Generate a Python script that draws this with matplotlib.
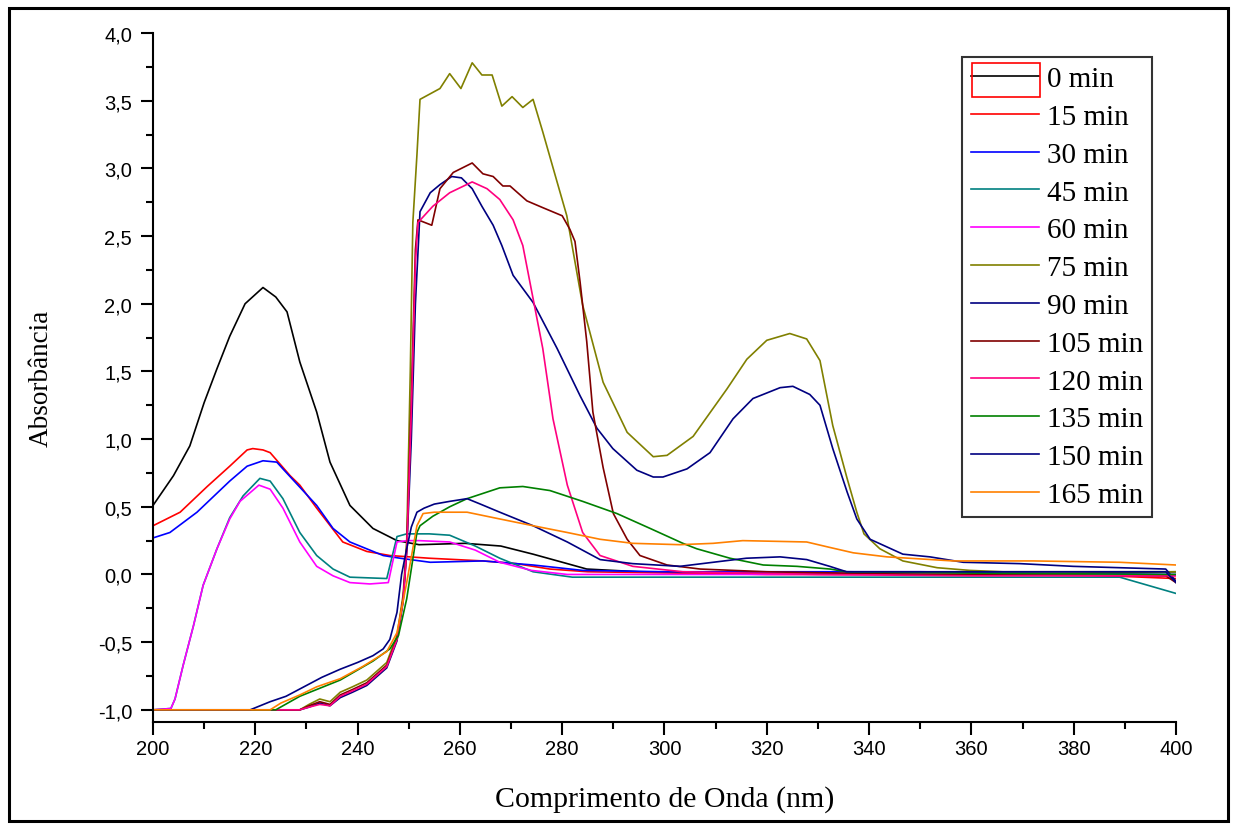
import matplotlib
matplotlib.use("Agg")
import matplotlib.pyplot as plt
from matplotlib.patches import Rectangle
from matplotlib.ticker import MultipleLocator, FuncFormatter

# espectros UV-Vis (comprimento de onda em nm, absorbancia)
wl_0 = [200, 204, 207.2, 210, 212.5, 215, 218, 221.5, 224, 226.2, 228.7, 232, 234.6, 238.5, 243, 247.7,
        252, 261, 268, 274.3, 281, 284.8, 295, 320, 360, 400]
abs_0 = [0.51, 0.73, 0.95, 1.27, 1.52, 1.76, 2.0, 2.12, 2.05, 1.94, 1.57, 1.2, 0.83, 0.51, 0.34, 0.25,
         0.22, 0.23, 0.21, 0.15, 0.08, 0.04, 0.02, 0.01, 0.0, 0.02]

wl_15 = [200, 205.3, 210.6, 215, 218.4, 219.5, 221.5, 222.9, 226.8, 228.7, 232, 237.1, 241.8, 246.3,
         254, 264.5, 271, 277.6, 285, 320, 380, 400]
abs_15 = [0.36, 0.46, 0.65, 0.80, 0.92, 0.93, 0.92, 0.90, 0.73, 0.66, 0.49, 0.24, 0.17, 0.14,
          0.12, 0.10, 0.08, 0.04, 0.02, 0.0, 0.0, -0.03]

wl_30 = [200, 203.3, 208.6, 215, 218.4, 221.5, 224.2, 225.4, 232, 235.2, 238.5, 245, 248.3, 254.2,
         264.5, 274.3, 284, 300, 350, 400]
abs_30 = [0.27, 0.31, 0.46, 0.69, 0.80, 0.84, 0.83, 0.78, 0.51, 0.34, 0.24, 0.14, 0.12, 0.09,
          0.10, 0.07, 0.03, 0.02, 0.02, 0.0]

wl_45 = [200, 203.5, 204.3, 205.9, 207.9, 209.8, 212.5, 215, 217.6, 220.9, 222.9, 225.4, 228.7, 232,
         235.2, 238.5, 245.7, 247.7, 249.6, 254, 258, 263, 267.8, 274.3, 282, 389, 400]
abs_45 = [-1.0, -0.99, -0.92, -0.67, -0.38, -0.08, 0.19, 0.42, 0.58, 0.71, 0.69, 0.56, 0.31, 0.14,
          0.04, -0.02, -0.03, 0.28, 0.30, 0.30, 0.29, 0.21, 0.12, 0.02, -0.02, -0.02, -0.14]

wl_60 = [200, 203.5, 204.3, 205.9, 207.9, 209.8, 212.5, 215, 217, 220.7, 222.9, 225.4, 228.7, 232,
         235.2, 238.5, 242.4, 246, 247.7, 249.6, 252, 258, 263, 267.8, 274, 281, 350, 400]
abs_60 = [-1.0, -0.99, -0.92, -0.67, -0.38, -0.08, 0.19, 0.41, 0.54, 0.66, 0.63, 0.49, 0.24, 0.06,
          -0.01, -0.06, -0.07, -0.06, 0.24, 0.25, 0.25, 0.24, 0.18, 0.09, 0.03, 0.0, 0.0, -0.01]

wl_75 = [200, 228.7, 230.5, 232.6, 234.6, 236.6, 239, 241.8, 245.7, 247.7, 248.9, 249.6, 250.3, 250.8,
         251.6, 252.2, 256.1, 258, 260.2, 262.4, 264.3, 266.3, 268.2, 270.2, 272.3, 274.3, 276.2, 279,
         280.9, 284, 288, 292.7, 297.8, 300.5, 305.6, 312.2, 316.1, 320, 324.5, 327.8, 330.4, 332.9,
         335.7, 337.6, 339, 342.1, 346.6, 353.3, 359.7, 366.2, 400]
abs_75 = [-1.0, -1.0, -0.96, -0.92, -0.94, -0.87, -0.83, -0.78, -0.65, -0.45, -0.15, 0.25, 1.5, 2.6,
          3.1, 3.51, 3.59, 3.70, 3.59, 3.78, 3.69, 3.69, 3.46, 3.53, 3.45, 3.51, 3.27, 2.90,
          2.65, 1.99, 1.42, 1.05, 0.87, 0.88, 1.02, 1.37, 1.59, 1.73, 1.78, 1.74, 1.58, 1.10,
          0.71, 0.46, 0.30, 0.19, 0.10, 0.05, 0.03, 0.02, 0.02]

wl_90 = [200, 228.7, 230.5, 232.6, 234.6, 236.6, 239, 241.8, 245.7, 247.7, 248.9, 249.6, 250.5, 251.3,
         252.2, 254.2, 256.1, 258.4, 260.3, 262.4, 264.3, 266.5, 268.2, 270.4, 274.3, 279, 283.5, 286.8,
         289.9, 294.6, 297.8, 299.7, 304.4, 308.9, 313.4, 317.3, 322.6, 325.1, 328.4, 330.4, 332.9,
         335.7, 337.6, 340.2, 346.6, 351.9, 358.4, 369.5, 379.9, 398, 400]
abs_90 = [-1.0, -1.0, -0.98, -0.95, -0.97, -0.91, -0.87, -0.82, -0.69, -0.49, -0.2, 0.17, 1.0, 2.0,
          2.68, 2.82, 2.88, 2.94, 2.93, 2.85, 2.72, 2.58, 2.43, 2.21, 2.01, 1.67, 1.32, 1.08,
          0.93, 0.77, 0.72, 0.72, 0.78, 0.90, 1.15, 1.30, 1.38, 1.39, 1.33, 1.25, 0.93,
          0.61, 0.41, 0.26, 0.15, 0.13, 0.09, 0.08, 0.06, 0.04, -0.05]

wl_105 = [200, 228.7, 230.5, 232.6, 234.6, 236.6, 239, 241.8, 245.7, 247.7, 248.9, 249.6, 250.5, 251.3,
          251.8, 254.5, 256.1, 258.7, 262.4, 264.5, 266.5, 268.4, 269.8, 273.1, 276.2, 280, 281.5,
          282.5, 283.5, 284.8, 286, 288, 290, 292.7, 295.2, 300.5, 307, 320, 350, 398, 400]
abs_105 = [-1.0, -1.0, -0.97, -0.94, -0.96, -0.89, -0.85, -0.80, -0.67, -0.47, -0.18, 0.19, 1.3, 2.4,
           2.62, 2.58, 2.85, 2.97, 3.04, 2.96, 2.94, 2.87, 2.87, 2.76, 2.71, 2.65, 2.55,
           2.46, 2.16, 1.72, 1.20, 0.79, 0.45, 0.26, 0.14, 0.07, 0.04, 0.02, 0.0, -0.01, -0.06]

wl_120 = [200, 228.7, 230.5, 232.6, 234.6, 236.6, 239, 241.8, 245.7, 247.7, 248.9, 249.6, 250.5, 251.3,
          251.8, 254.7, 258, 262.4, 265.3, 267.8, 270.4, 272.3, 274.3, 276.2, 278.2, 281, 284, 287.4,
          293.8, 303.6, 330, 360, 400]
abs_120 = [-1.0, -1.0, -0.98, -0.96, -0.97, -0.90, -0.86, -0.81, -0.68, -0.48, -0.19, 0.18, 1.2, 2.3,
           2.6, 2.72, 2.82, 2.90, 2.85, 2.77, 2.62, 2.43, 2.04, 1.67, 1.15, 0.66, 0.31, 0.14,
           0.06, 0.02, 0.0, -0.01, -0.01]

wl_135 = [200, 224, 228.7, 236.6, 243, 246.3, 248, 249.6, 251.6, 252.2, 254.7, 258, 261.4, 267.8,
          272.3, 277.6, 284, 290.7, 297.2, 303.6, 306.3, 312.8, 319.3, 325.9, 332.4, 335.6, 360, 400]
abs_135 = [-1.0, -1.0, -0.90, -0.78, -0.64, -0.55, -0.45, -0.18, 0.31, 0.36, 0.43, 0.50, 0.56, 0.64,
           0.65, 0.62, 0.54, 0.45, 0.34, 0.23, 0.19, 0.12, 0.07, 0.06, 0.04, 0.02, 0.01, 0.0]

wl_150 = [200, 219, 222.9, 226, 230, 233, 236.6, 240, 243, 245, 246.3, 247.7, 248.6, 249.6, 250.5,
          251.6, 253, 255, 258, 261.4, 264, 267.8, 274.3, 281, 287.4, 293.8, 303, 309.5, 316, 322.6,
          327.8, 332.3, 335.6, 350, 380, 398, 400]
abs_150 = [-1.0, -1.0, -0.94, -0.90, -0.82, -0.76, -0.70, -0.65, -0.60, -0.55, -0.48, -0.28, 0.0, 0.19, 0.35,
           0.46, 0.49, 0.52, 0.54, 0.56, 0.52, 0.46, 0.36, 0.24, 0.11, 0.08, 0.06, 0.09, 0.12, 0.13,
           0.11, 0.06, 0.02, 0.02, 0.02, 0.02, -0.06]

wl_165 = [200, 222.9, 225, 228.7, 232, 236.6, 241, 245.7, 247.7, 249.6, 251.6, 252.8, 255, 258, 261.4,
          267.8, 274.3, 281, 287.4, 293.8, 303, 309.5, 315.3, 327.8, 332.3, 336.9, 343.5, 356.4, 372,
          389, 400]
abs_165 = [-1.0, -1.0, -0.95, -0.89, -0.83, -0.77, -0.68, -0.57, -0.43, -0.06, 0.36, 0.45, 0.46, 0.46, 0.46,
           0.41, 0.36, 0.31, 0.26, 0.23, 0.22, 0.23, 0.25, 0.24, 0.20, 0.16, 0.13, 0.10, 0.10,
           0.09, 0.07]

labels = ["0 min", "15 min", "30 min", "45 min", "60 min", "75 min", "90 min",
          "105 min", "120 min", "135 min", "150 min", "165 min"]
colors = ["#000000", "#FF0000", "#0000FF", "#008080", "#FF00FF", "#808000", "#000080",
          "#800000", "#FF0080", "#008000", "#000080", "#FF8000"]
xs = [wl_0, wl_15, wl_30, wl_45, wl_60, wl_75, wl_90, wl_105, wl_120, wl_135, wl_150, wl_165]
ys = [abs_0, abs_15, abs_30, abs_45, abs_60, abs_75, abs_90, abs_105, abs_120, abs_135, abs_150, abs_165]

fig = plt.figure(figsize=(12.35, 8.28), dpi=100)
ax = fig.add_axes([0.1239, 0.1268, 0.8283, 0.8321])

for x, y, c, lab in zip(xs, ys, colors, labels):
    ax.plot(x, y, color=c, lw=1.2, label=lab)

ax.set_xlim(200, 400)
ax.set_ylim(-1.09, 4.0)
ax.spines['top'].set_visible(False)
ax.spines['right'].set_visible(False)
ax.spines['left'].set_linewidth(1.5)
ax.spines['bottom'].set_linewidth(1.5)

ax.xaxis.set_major_locator(MultipleLocator(20))
ax.xaxis.set_minor_locator(MultipleLocator(10))
ax.yaxis.set_major_locator(MultipleLocator(0.5))
ax.yaxis.set_minor_locator(MultipleLocator(0.25))
ax.yaxis.set_major_formatter(FuncFormatter(lambda v, p: f"{v:.1f}".replace('.', ',')))
ax.tick_params(which='major', direction='out', length=9, width=1.5)
ax.tick_params(which='minor', direction='out', length=5, width=1.5)
ax.tick_params(axis='y', which='major', pad=6)
ax.tick_params(axis='x', which='major', pad=3)
for t in ax.get_xticklabels() + ax.get_yticklabels():
    t.set_fontfamily('Liberation Sans')
    t.set_fontsize(14.5)

ax.set_xlabel('Comprimento de Onda (nm)', family='Liberation Serif', fontsize=21.5, labelpad=20)
ax.set_ylabel('Absorbância', family='Liberation Serif', fontsize=19.5, labelpad=32)

leg = ax.legend(loc='upper right', bbox_to_anchor=(0.9765, 0.965),
                prop={'family': 'Liberation Serif', 'size': 21},
                frameon=True, fancybox=False, edgecolor='black', handlelength=2.33,
                handletextpad=0.27, labelspacing=0.39, borderpad=0.3, borderaxespad=0)
leg.get_frame().set_linewidth(1.5)

# caixa vermelha de selecao em volta do primeiro item da legenda
fig.patches.append(Rectangle((972 / 1235, 1 - 98 / 828), 68 / 1235, 34 / 828, fill=False,
                             edgecolor='red', lw=1.2, transform=fig.transFigure, figure=fig))
# moldura externa
fig.patches.append(Rectangle((9 / 1235, 1 - 822 / 828), 1219 / 1235, 813 / 828, fill=False,
                             edgecolor='black', lw=2.2, transform=fig.transFigure, figure=fig))

fig.savefig('out.png', dpi=100)
